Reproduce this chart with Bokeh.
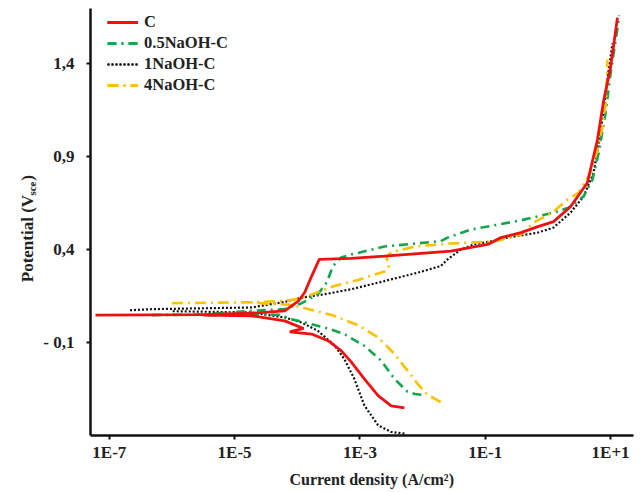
import numpy as np
from bokeh.plotting import figure
from bokeh.layouts import row
from bokeh.models import Range1d, FixedTicker, Legend, LegendItem, Label, Title
from bokeh.embed import file_html
from bokeh.resources import INLINE

# ---- data: log10(current density, A/cm2) and potential (V_sce) ----
series_names = ["C", "0.5NaOH-C", "1NaOH-C", "4NaOH-C"]

c_cat_logi = [-2.29, -2.50, -2.71, -2.93, -3.14, -3.30, -3.51, -3.77, -4.12, -3.90, -4.20, -4.73, -5.50]
c_cat_E = [-0.454, -0.443, -0.389, -0.298, -0.207, -0.146, -0.093, -0.057, -0.045, -0.027, 0.014, 0.041, 0.045]
c_an_logi = [-7.22, -5.50, -4.73, -4.20, -3.98, -3.88, -3.77, -3.65, -3.14, -2.61, -1.55, -0.96, -0.75,
             -0.43, -0.16, 0.09, 0.36, 0.63, 0.79, 0.89, 1.00, 1.11]
c_an_E = [0.045, 0.047, 0.055, 0.068, 0.121, 0.168, 0.255, 0.345, 0.350, 0.362, 0.389, 0.425, 0.462,
          0.489, 0.521, 0.548, 0.628, 0.757, 0.987, 1.200, 1.378, 1.646]

n05_cat_logi = [-2.02, -2.12, -2.24, -2.45, -2.66, -2.93, -3.25, -3.51, -3.77, -4.09, -4.30, -4.73, -5.50]
n05_cat_E = [-0.384, -0.380, -0.368, -0.298, -0.200, -0.120, -0.057, -0.027, -0.004, 0.023, 0.047, 0.045, 0.045]
n05_an_logi = [-6.32, -5.50, -4.73, -4.20, -3.93, -3.67, -3.53, -3.43, -3.30, -3.14, -2.61, -1.71, -1.60,
               -1.23, -0.43, 0.09, 0.33, 0.57, 0.71, 0.81, 0.92, 1.00, 1.08, 1.14]
n05_an_E = [0.045, 0.048, 0.068, 0.077, 0.109, 0.157, 0.221, 0.309, 0.355, 0.371, 0.414, 0.443, 0.462,
            0.505, 0.555, 0.596, 0.623, 0.684, 0.773, 0.918, 1.132, 1.346, 1.523, 1.657]

n1_cat_logi = [-2.29, -2.50, -2.71, -2.93, -3.09, -3.25, -3.41, -3.67, -3.93, -4.20, -4.73, -6.00]
n1_cat_E = [-0.593, -0.584, -0.548, -0.441, -0.298, -0.191, -0.116, -0.040, 0.005, 0.032, 0.059, 0.066]
n1_an_logi = [-6.67, -6.32, -4.73, -4.20, -3.93, -3.57, -3.14, -2.61, -2.08, -1.71, -1.60, -1.39, -1.18,
              -0.80, -0.65, -0.17, 0.09, 0.36, 0.57, 0.73, 0.84, 0.94, 1.03]
n1_an_E = [0.071, 0.077, 0.086, 0.116, 0.139, 0.157, 0.184, 0.228, 0.273, 0.309, 0.345, 0.398, 0.425,
           0.448, 0.462, 0.488, 0.516, 0.596, 0.684, 0.811, 1.025, 1.293, 1.507]

n4_cat_logi = [-1.71, -1.92, -2.08, -2.24, -2.45, -2.71, -3.03, -3.41, -3.77, -4.10, -4.73]
n4_cat_E = [-0.423, -0.384, -0.325, -0.254, -0.164, -0.075, -0.009, 0.041, 0.073, 0.100, 0.112]
n4_an_logi = [-6.00, -4.73, -4.20, -3.93, -3.72, -3.41, -3.03, -2.87, -2.58, -2.53, -2.58, -2.50, -2.08,
              -1.55, -0.86, -0.43, -0.23, 0.09, 0.31, 0.49, 0.68, 0.79, 0.87, 0.93, 0.95]
n4_an_E = [0.109, 0.114, 0.121, 0.136, 0.162, 0.202, 0.234, 0.252, 0.282, 0.312, 0.355, 0.384, 0.416,
           0.430, 0.441, 0.478, 0.543, 0.602, 0.666, 0.703, 0.811, 0.934, 1.057, 1.202, 1.420]

x_ticks = [1e-7, 1e-5, 1e-3, 1e-1, 1e1]
x_tick_labels = ["1E-7", "1E-5", "1E-3", "1E-1", "1E+1"]
y_ticks = [1.4, 0.9, 0.4, -0.1]
y_tick_labels = ["1,4", "0,9", "0,4", "- 0,1"]
x_title = "Current density (A/cm²)"
y_title_parts = ["Potential (V", "sce", ")"]

FONT = "Liberation Serif"
LEFT_W = 40
FRAME_TOP, FRAME_BOTTOM = 8, 437

p = figure(width=642 - LEFT_W, height=492, x_axis_type="log", output_backend="svg", toolbar_location=None,
           x_range=Range1d(10 ** -7.30, 10 ** 1.366), y_range=Range1d(-0.603, 1.695),
           min_border_left=88 - LEFT_W, min_border_right=9, min_border_top=FRAME_TOP,
           min_border_bottom=492 - FRAME_BOTTOM)
p.outline_line_color = None
p.grid.visible = False
p.background_fill_color = "white"
p.border_fill_color = "white"

colors = ["#ee1111", "#12a54a", "#111111", "#ffc000"]
widths = [2.8, 2.6, 2.2, 2.6]
dashes = ["solid", "9 5 2 5", "2 2", "11 5 2 5"]

data = [
    (c_cat_logi, c_cat_E, c_an_logi, c_an_E),
    (n05_cat_logi, n05_cat_E, n05_an_logi, n05_an_E),
    (n1_cat_logi, n1_cat_E, n1_an_logi, n1_an_E),
    (n4_cat_logi, n4_cat_E, n4_an_logi, n4_an_E),
]
order = [2, 1, 3, 0]
rends = {}
for i in order:
    cl, ce, al, ae = data[i]
    st = dict(line_color=colors[i], line_width=widths[i], line_dash=dashes[i])
    r1 = p.line(10 ** np.array(cl), ce, **st)
    r2 = p.line(10 ** np.array(al), ae, **st)
    rends[i] = [r1, r2]

items = [LegendItem(label=series_names[i], renderers=rends[i]) for i in range(4)]
legend = Legend(items=items, location=(17, 340), border_line_color=None, background_fill_alpha=0,
                padding=4, spacing=1, glyph_width=31, glyph_height=20, label_height=20,
                label_standoff=6, label_text_font=FONT, label_text_font_style="bold",
                label_text_font_size="16.5px", label_text_color="#222222", margin=0)
p.add_layout(legend, "center")

for ax in (p.xaxis[0], p.yaxis[0]):
    ax.axis_line_width = 2.5
    ax.axis_line_color = "#111111"
    ax.major_tick_line_width = 2
    ax.major_tick_line_color = "#111111"
    ax.major_tick_out = 4
    ax.major_tick_in = 0
    ax.minor_tick_line_color = None
    ax.major_label_text_font = FONT
    ax.major_label_text_font_style = "bold"
    ax.major_label_text_font_size = "17px"
    ax.major_label_text_color = "#222222"

p.xaxis[0].ticker = FixedTicker(ticks=x_ticks)
p.xaxis[0].major_label_overrides = dict(zip(x_ticks, x_tick_labels))
p.xaxis[0].major_label_standoff = 3
p.yaxis[0].ticker = FixedTicker(ticks=y_ticks)
p.yaxis[0].major_label_overrides = dict(zip(y_ticks, y_tick_labels))
p.yaxis[0].major_label_standoff = 12

p.add_layout(Title(text=x_title, align="left", offset=199, standoff=9, text_font=FONT,
                   text_font_style="bold", text_font_size="16px", text_color="#222222"), "below")

# narrow left strip carrying the rotated y-axis title (with subscript);
# its frame is aligned with the main frame, so map y directly to page rows
lt = figure(width=LEFT_W, height=492, x_range=Range1d(0, LEFT_W),
            y_range=Range1d(FRAME_BOTTOM, FRAME_TOP),
            output_backend="svg", toolbar_location=None, min_border=0,
            x_axis_location=None, y_axis_location=None)
lt.outline_line_color = None
lt.grid.visible = False
lab_kw = dict(text_font=FONT, text_font_style="bold", text_color="#222222",
              angle=90, angle_units="deg", text_align="left", text_baseline="middle")
lt.add_layout(Label(x=27, y=283, text=y_title_parts[0], text_font_size="17px", **lab_kw))
lt.add_layout(Label(x=31.5, y=196, text=y_title_parts[1], text_font_size="11px", **lab_kw))
lt.add_layout(Label(x=27, y=181, text=y_title_parts[2], text_font_size="17px", **lab_kw))

layout = row(lt, p)
open("out.html", "w").write(file_html(layout, INLINE))
